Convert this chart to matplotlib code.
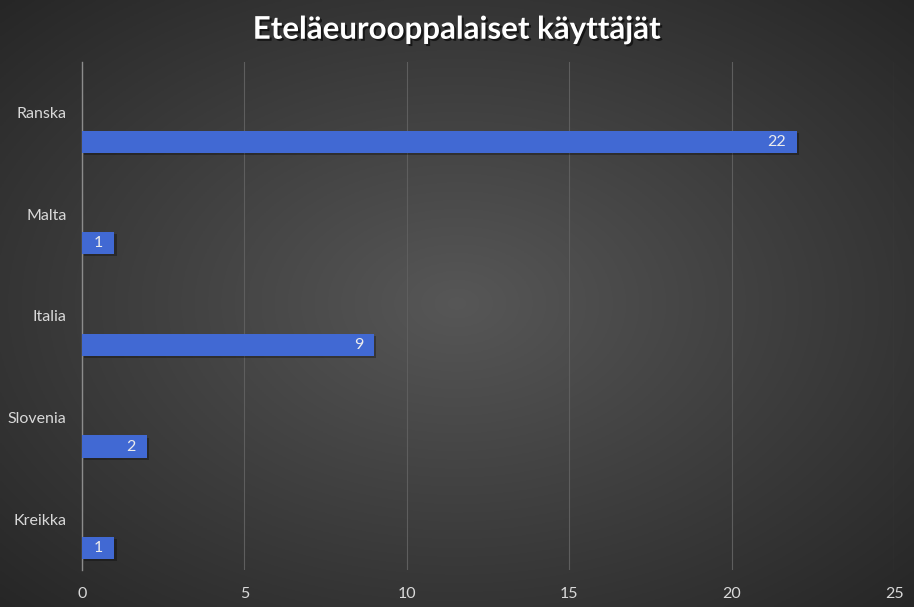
import numpy as np
import matplotlib
matplotlib.use("Agg")
import matplotlib.pyplot as plt
import matplotlib.patheffects as pe

# Chart data (top to bottom as shown)
countries = ["Ranska", "Malta", "Italia", "Slovenia", "Kreikka"]
users = [22, 1, 9, 2, 1]
x_ticks = [0, 5, 10, 15, 20, 25]
title = "Eteläeurooppalaiset käyttäjät"

fig = plt.figure(figsize=(9.14, 6.07), dpi=100)

# radial gradient background
bg = fig.add_axes([0, 0, 1, 1], zorder=-10)
yy, xx = np.mgrid[-1:1:300j, -1:1:450j]
r = np.sqrt(xx ** 2 + yy ** 2) / np.sqrt(2)
vals = 0.34 - 0.19 * r
bg.imshow(np.dstack([vals, vals, vals]), aspect="auto", extent=[0, 1, 0, 1])
bg.axis("off")

ax = fig.add_axes([0.0897, 0.061, 0.8886, 0.837])
ax.patch.set_alpha(0)

pos = np.arange(len(countries))
bar_offset = 0.285
bar_h = 0.217
bars = ax.barh(pos + bar_offset, users, height=bar_h, color="#4169d3",
               edgecolor="none", zorder=3)
for b in bars:
    b.set_path_effects([pe.SimplePatchShadow(offset=(1.5, -1.5), shadow_rgbFace="black", alpha=0.3),
                        pe.Normal()])

for p, v in zip(pos, users):
    ax.annotate(str(v), (v, p + bar_offset), xytext=(-8, 0), textcoords="offset points",
                ha="right", va="center", color="#ececec", fontsize=11.5,
                family="Lato", zorder=4)

ax.set_ylim(len(countries) - 0.5, -0.5)
ax.set_xlim(0, 25)
ax.set_yticks(pos)
ax.set_yticklabels(countries)
ax.set_xticks(x_ticks)
ax.tick_params(axis="both", length=0, colors="#d9d9d9", labelsize=11.5)
ax.tick_params(axis="x", pad=12)
ax.tick_params(axis="y", pad=11)
for lbl in ax.get_xticklabels() + ax.get_yticklabels():
    lbl.set_family("Lato")

ax.grid(axis="x", color="#5e5e5e", linewidth=0.8, zorder=0)
for s in ["top", "right", "bottom"]:
    ax.spines[s].set_visible(False)
ax.spines["left"].set_color("#8c8c8c")
ax.spines["left"].set_linewidth(1.0)

fig.text(0.5, 0.951, title, ha="center", va="center", color="white",
         fontsize=22.5, fontweight="bold", family="Lato",
         path_effects=[pe.SimplePatchShadow(offset=(1.5, -1.5), shadow_rgbFace="black", alpha=0.6),
                       pe.Normal()])

fig.savefig("out.png", dpi=100)
